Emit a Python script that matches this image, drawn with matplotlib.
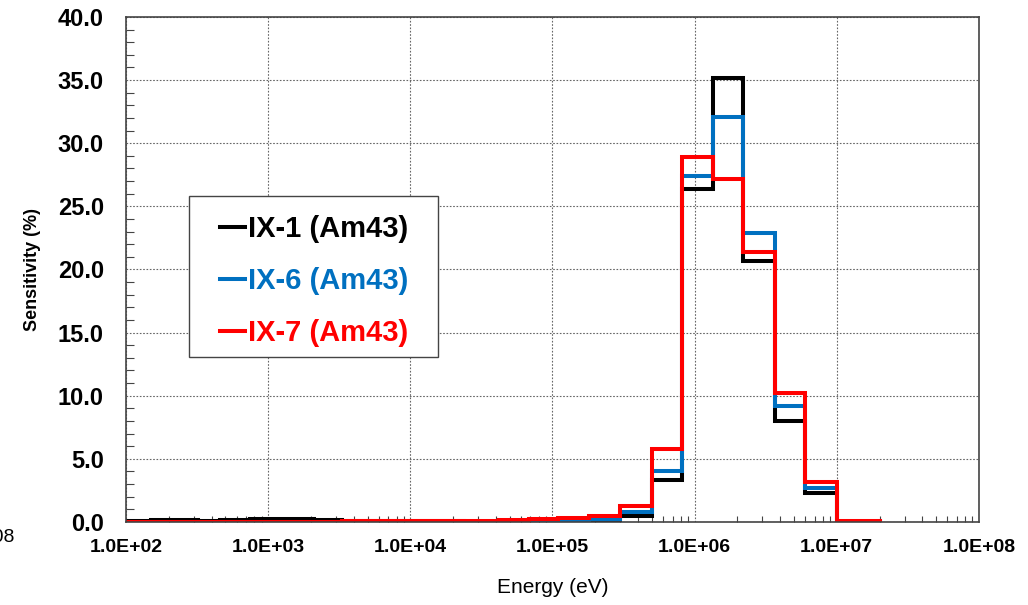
import numpy as np
import matplotlib
matplotlib.use('Agg')
import matplotlib.pyplot as plt
from matplotlib.patches import Rectangle
from matplotlib.ticker import MultipleLocator, LogLocator, FixedLocator

# energy group boundaries (eV)
edges = [1.0e2, 1.5e2, 3.2e2, 4.6e2, 7.4e2, 2.1e3, 3.3e3, 9.1e3, 2.4e4, 4.2e4,
         6.8e4, 1.1e5, 1.8e5, 3.0e5, 5.0e5, 8.2e5, 1.35e6, 2.2e6, 3.7e6,
         6.0e6, 1.0e7, 2.0e7]

# sensitivity per group (%)
ix1 = [0.05, 0.18, 0.10, 0.15, 0.20, 0.12, 0.10, 0.08, 0.03, 0.03,
       0.05, 0.05, 0.10, 0.50, 3.3, 26.4, 35.2, 20.7, 8.0, 2.3, 0.03]
ix6 = [0.0, 0.0, 0.0, 0.0, 0.0, 0.0, 0.0, 0.0, 0.02, 0.05,
       0.10, 0.15, 0.20, 0.80, 4.0, 27.4, 32.1, 22.9, 9.2, 2.7, 0.03]
ix7 = [0.0, 0.0, 0.0, 0.0, 0.0, 0.0, 0.05, 0.05, 0.10, 0.12,
       0.25, 0.35, 0.50, 1.30, 5.8, 28.9, 27.2, 21.4, 10.2, 3.2, 0.05]

series = [('IX-1 (Am43)', ix1, '#000000'),
          ('IX-6 (Am43)', ix6, '#0070C0'),
          ('IX-7 (Am43)', ix7, '#FF0000')]

xticks = [1e2, 1e3, 1e4, 1e5, 1e6, 1e7, 1e8]
xticklabels = ['1.0E+02', '1.0E+03', '1.0E+04', '1.0E+05', '1.0E+06', '1.0E+07', '1.0E+08']

plt.rcParams['font.family'] = ['Liberation Sans', 'DejaVu Sans']

fig = plt.figure(figsize=(10.28, 6.05), dpi=100)
ax = fig.add_axes((0.1226, 0.1372, 0.8297, 0.8347))

for name, vals, c in series:
    ax.step(edges, vals + [vals[-1]], where='post', color=c, lw=2.9,
            label=name, solid_joinstyle='miter')

ax.set_xscale('log')
ax.set_xlim(1e2, 1e8)
ax.set_ylim(0, 40)

ax.xaxis.set_major_locator(FixedLocator(xticks))
ax.set_xticklabels(xticklabels, fontsize=14, fontweight='bold')
ax.xaxis.set_minor_locator(LogLocator(base=10, subs=np.arange(2, 10), numticks=20))
ax.yaxis.set_major_locator(MultipleLocator(5))
ax.yaxis.set_minor_locator(MultipleLocator(1))
ax.set_yticks(np.arange(0, 41, 5))
ax.set_yticklabels(['%.1f' % v for v in np.arange(0, 41, 5)], fontsize=17, fontweight='bold')

ax.tick_params(which='major', length=0)
ax.tick_params(axis='y', which='major', pad=16)
ax.tick_params(axis='x', which='major', pad=12)
ax.tick_params(which='minor', direction='in', length=6, width=0.8, color='#444444')
ax.tick_params(axis='x', which='minor', length=4)

ax.grid(True, which='major', color='#666666', linestyle=(0, (1.5, 1.5)), lw=0.8)
for s in ax.spines.values():
    s.set_color('#444444')
    s.set_linewidth(1.2)

ax.set_ylabel('Sensitivity (%)', fontsize=13, fontweight='bold', labelpad=12)
ax.set_xlabel('Energy (eV)', fontsize=15, labelpad=16)

# legend frame drawn separately so the padding can match
ax.add_patch(Rectangle((0.0739, 0.3267), 0.2919, 0.3188, transform=ax.transAxes,
                       facecolor='white', edgecolor='#444444', lw=1.0, zorder=4))
leg = ax.legend(loc='upper left', bbox_to_anchor=(0.1102, 0.608),
                prop={'weight': 'bold', 'size': 21}, labelcolor='linecolor',
                handlelength=0.85, handletextpad=0.1, labelspacing=0.83,
                borderpad=0, borderaxespad=0, frameon=False)
leg.set_zorder(5)

# clipped label fragment at the far left
fig.text(15 / 1028, 1 - 538 / 605, '1.0E+08', ha='right', va='center', fontsize=14)

fig.savefig('out.png', dpi=100)
